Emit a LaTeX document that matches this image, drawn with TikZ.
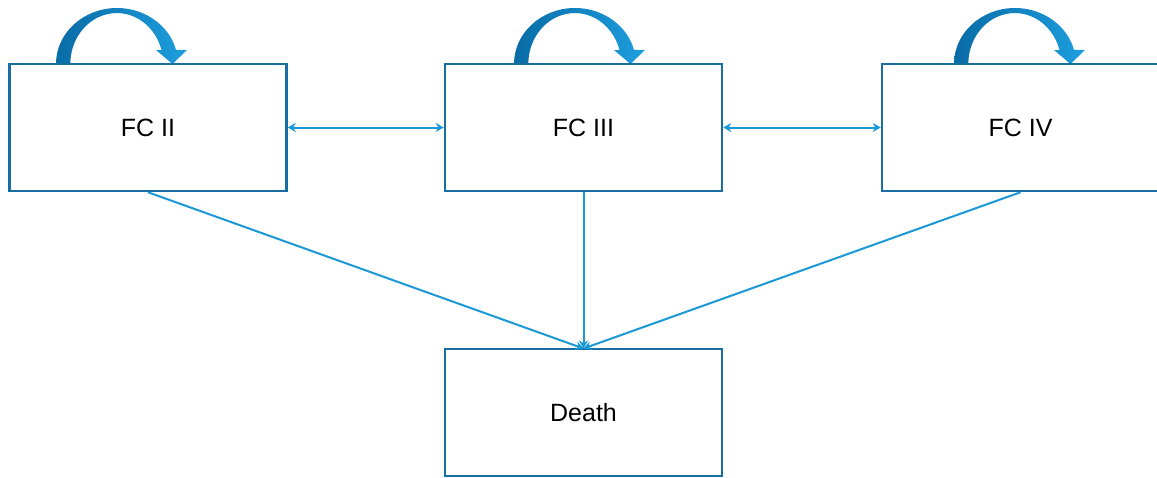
\documentclass[tikz,border=0pt]{standalone}
\usepackage{fontspec}
\setmainfont{Liberation Sans}
\usetikzlibrary{arrows.meta}
\definecolor{boxblue}{RGB}{24,110,160}
\definecolor{lineblue}{RGB}{26,152,216}
\definecolor{arcdark}{RGB}{8,108,166}
\definecolor{arclight}{RGB}{30,158,222}
\tikzset{
  statebox/.style={draw=boxblue, line width=2.5pt, fill=white, minimum width=277pt, minimum height=127pt, inner sep=0pt, font=\fontsize{25}{30}\selectfont},
  conn/.style={draw=lineblue, line width=2pt, -{Stealth[length=8pt,width=9pt]}},
  biconn/.style={draw=lineblue, line width=2pt, {Stealth[length=8pt,width=9pt]}-{Stealth[length=8pt,width=9pt]}},
  loopfill/.style={left color=arcdark, right color=arclight, draw=none}
}
\newcommand{\selfloop}[1]{%
  \begin{scope}[shift={(#1,0)}]
    \path[loopfill] (56,64) arc[start angle=180, end angle=14.5, x radius=61, y radius=-56]
      -- (187,50) -- (172.5,64) -- (156,50) -- (161.5,50)
      arc[start angle=16, end angle=180, x radius=46.5, y radius=-51] -- cycle;
  \end{scope}}
\begin{document}
\begin{tikzpicture}[x=1pt,y=-1pt]
\useasboundingbox (0,0) rectangle (1157,477);
\selfloop{0}
\selfloop{458}
\selfloop{898}
\node[statebox] (fc2) at (148,127.5) {FC II};
\node[statebox] (fc3) at (583.5,127.5) {FC III};
\node[statebox] (fc4) at (1020.5,127.5) {FC IV};
\node[statebox] (death) at (583.5,412.5) {Death};
\coordinate (d) at (583.5,348.5);
\draw[biconn] (fc2.east) -- (fc3.west);
\draw[biconn] (fc3.east) -- (fc4.west);
\draw[conn] (fc2.south) -- (d);
\draw[conn] (fc3.south) -- (d);
\draw[conn] (fc4.south) -- (d);
\end{tikzpicture}
\end{document}
